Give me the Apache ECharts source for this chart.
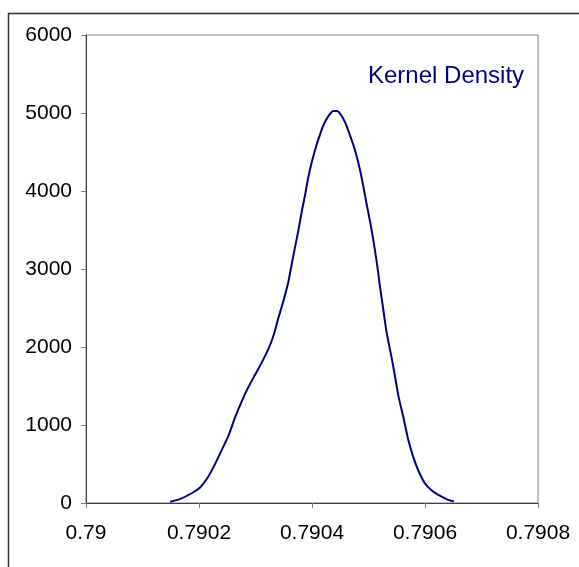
<!DOCTYPE html>
<html>
<head>
<meta charset="utf-8">
<script src="https://cdn.jsdelivr.net/npm/echarts@6/dist/echarts.min.js"></script>
<style>
html,body{margin:0;padding:0;background:#fff;}
#c{width:579px;height:567px;}
</style>
</head>
<body>
<div id="c"></div>
<script>
const seriesName = 'Kernel Density';
const xValues = [0.790149,0.790166,0.790187,0.790202,0.790214,0.790225,0.790237,0.790252,0.790264,0.790276,0.790287,0.790299,0.790311,0.790323,0.790332,0.790340,0.790349,0.790358,0.790364,0.790370,0.790376,0.790382,0.790388,0.790393,0.790400,0.790408,0.790414,0.790420,0.790429,0.790438,0.790444,0.790450,0.790458,0.790467,0.790476,0.790485,0.790491,0.790497,0.790503,0.790509,0.790515,0.790520,0.790526,0.790532,0.790541,0.790547,0.790553,0.790562,0.790570,0.790579,0.790588,0.790600,0.790612,0.790627,0.790641,0.790651];
const yValues = [15,50,125,200,310,450,630,860,1100,1310,1480,1640,1800,1975,2150,2360,2580,2830,3060,3280,3500,3740,3960,4160,4380,4590,4720,4840,4960,5025,5025,4990,4890,4720,4525,4270,4055,3820,3600,3350,3070,2790,2490,2190,1860,1620,1370,1090,820,595,420,250,160,90,40,20];
const xTickLabels = ['0.79','0.7902','0.7904','0.7906','0.7908'];
const yTickLabels = ['0','1000','2000','3000','4000','5000','6000'];

const chart = echarts.init(document.getElementById('c'));
const data = xValues.map((x,i)=>[x,yValues[i]]);
const xMin = 0.79, xStep = 0.0002;
chart.setOption({
  animation:false,
  backgroundColor:'#fff',
  textStyle:{fontFamily:'Liberation Sans, Arial, sans-serif'},
  graphic:[{type:'rect',shape:{x:8.5,y:13.5,width:700,height:700},style:{fill:null,stroke:'#333',lineWidth:1.5},silent:true}],
  legend:{
    left:358, top:59, itemWidth:0, itemHeight:0, icon:'rect',
    data:[seriesName],
    textStyle:{color:'#000080',fontSize:24,lineHeight:24,fontFamily:'Liberation Sans, Arial, sans-serif'}
  },
  grid:{left:86,top:35,right:41,bottom:64,show:true,borderColor:'#808080',borderWidth:1,backgroundColor:'transparent'},
  xAxis:{
    type:'value',min:0.79,max:0.7908,interval:0.0002,
    axisLine:{show:true,onZero:false,lineStyle:{color:'#404040',width:1}},
    axisTick:{show:true,length:5,lineStyle:{color:'#808080'}},
    splitLine:{show:false},
    axisLabel:{color:'#000',fontSize:21,margin:20,
      formatter:(v)=>xTickLabels[Math.round((v-xMin)/xStep)] ?? String(v)}
  },
  yAxis:{
    type:'value',min:0,max:6000,interval:1000,
    axisLine:{show:true,lineStyle:{color:'#404040',width:1}},
    axisTick:{show:true,length:5,lineStyle:{color:'#808080'}},
    splitLine:{show:false},
    axisLabel:{color:'#000',fontSize:21,margin:14,
      formatter:(v)=>yTickLabels[Math.round(v/1000)] ?? String(v)}
  },
  series:[{
    name:seriesName,type:'line',data:data,showSymbol:false,symbol:'none',smooth:0.2,
    lineStyle:{color:'#000080',width:2},itemStyle:{color:'#000080'}
  }]
});
</script>
</body>
</html>
